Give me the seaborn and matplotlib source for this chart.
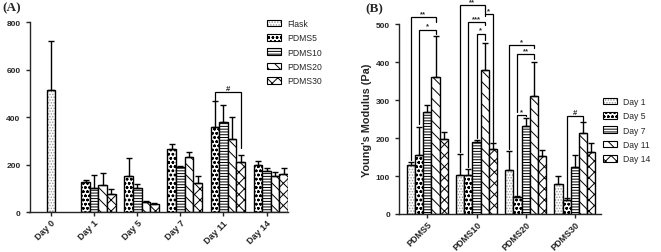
import numpy as np
import pandas as pd
import seaborn as sns
import matplotlib.pyplot as plt
from matplotlib.patches import Patch

# ---- dados ----
dias = ['Day 0', 'Day 1', 'Day 5', 'Day 7', 'Day 11', 'Day 14']
dias_pdms = ['Day 1', 'Day 5', 'Day 7', 'Day 11', 'Day 14']
grupos = ['PDMS5', 'PDMS10', 'PDMS20', 'PDMS30']

flask_media = [515]
flask_erro = [205]

media_pdms5 = [128, 154, 268, 361, 198]
media_pdms10 = [103, 102, 190, 380, 172]
media_pdms20 = [116, 44, 231, 310, 152]
media_pdms30 = [78, 37, 123, 212, 162]

erro_pdms5 = [8, 76, 20, 108, 17]
erro_pdms10 = [54, 16, 5, 70, 14]
erro_pdms20 = [50, 3, 22, 91, 16]
erro_pdms30 = [21, 4, 31, 30, 24]

# hachuras de cada serie
hachura_flask = '......'
hachuras = ['oooo', '------', '\\\\\\', 'xxx']

# marcas de significancia: (grupo, barra i, barra j, topo, perna esq, perna dir, texto)
sig_a = [('Day 11', 0, 3, 507, 472, 272, '#')]
sig_b = [
    ('PDMS5', 0, 3, 518, 142, 506, '**'),
    ('PDMS5', 1, 3, 485, 237, 475, '*'),
    ('PDMS10', 0, 3, 550, 162, 526, '**'),
    ('PDMS10', 3, 4, 526, 520, 190, '*'),
    ('PDMS10', 1, 3, 504, 123, 497, '***'),
    ('PDMS10', 2, 3, 475, 200, 458, '*'),
    ('PDMS20', 0, 3, 445, 171, 436, '*'),
    ('PDMS20', 1, 3, 421, 268, 407, '**'),
    ('PDMS20', 1, 2, 261, 50, 257, '*'),
    ('PDMS30', 1, 3, 257, 45, 246, '#'),
]

medias = [media_pdms5, media_pdms10, media_pdms20, media_pdms30]
erros = [erro_pdms5, erro_pdms10, erro_pdms20, erro_pdms30]

linhas = []
for g, m, e in zip(grupos, medias, erros):
    for d, mv, ev in zip(dias_pdms, m, e):
        linhas.append({'dia': d, 'grupo': g, 'media': mv, 'erro': ev})
df = pd.DataFrame(linhas)
df_flask = pd.DataFrame({'dia': ['Day 0'], 'grupo': ['Flask'],
                         'media': flask_media, 'erro': flask_erro})

sns.set_style('ticks')
plt.rcParams['font.family'] = ['Liberation Sans', 'DejaVu Sans']
plt.rcParams['hatch.linewidth'] = 0.7
plt.rcParams['axes.linewidth'] = 1.0

fig = plt.figure(figsize=(6.61, 2.53), dpi=100)
axA = fig.add_axes([29.5 / 661, 39.7 / 253, 258.6 / 661, 190 / 253])
axB = fig.add_axes([399 / 661, 38 / 253, 202 / 661, 190 / 253])

cinza = (0.6, 0.6, 0.6, 1)


def aplica_hachura(p, h):
    p.set_hatch(h)
    if h == hachura_flask:
        p._hatch_color = cinza


def acabamento(ax, tops, rot_labels):
    # hachuras + barras de erro (so para cima)
    for p in ax.patches:
        x = p.get_x() + p.get_width() / 2
        chave = (int(round(x)), round(p.get_height(), 3))
        if chave not in tops:
            continue
        h, e = tops[chave]
        aplica_hachura(p, h)
        ax.errorbar(x, p.get_height(), yerr=[[0], [e]], fmt='none', ecolor='black',
                    elinewidth=1, capsize=2, capthick=1)
    sns.despine(ax=ax)
    ax.set_xlabel('')
    ax.tick_params(axis='both', length=3, width=1, labelsize=6)
    ax.tick_params(axis='x', pad=1)
    for t in ax.get_yticklabels():
        t.set_fontweight('bold')
    ax.set_xticks(ax.get_xticks())
    ax.set_xticklabels(rot_labels, rotation=45, ha='right', rotation_mode='anchor',
                       fontsize=6.5, fontweight='bold')


def centro_barra(ax, grupo_idx, valor):
    for p in ax.patches:
        x = p.get_x() + p.get_width() / 2
        if int(round(x)) == grupo_idx and round(p.get_height(), 3) == valor:
            return x
    return None


def colchetes(ax, lista, categorias, series, ordem):
    for grp, i, j, topo, yi, yj, txt in lista:
        gi = categorias.index(grp)
        xi = centro_barra(ax, gi, series[ordem[i]][gi])
        xj = centro_barra(ax, gi, series[ordem[j]][gi])
        ax.plot([xi, xi, xj, xj], [yi, topo, topo, yj], color='black', lw=0.9,
                clip_on=False, solid_joinstyle='miter')
        ax.text((xi + xj) / 2, topo, txt, ha='center', va='bottom', fontsize=5.5,
                fontweight='bold')


# ---------------- (A) ----------------
sns.barplot(data=df_flask, x='dia', y='media', order=dias, width=0.2, color='white',
            edgecolor='black', linewidth=1, errorbar=None, ax=axA)
sns.barplot(data=df, x='dia', y='media', hue='grupo', order=dias,
            hue_order=['Flask'] + grupos, width=1.0, palette=['white'] * 5,
            edgecolor='black', linewidth=1, errorbar=None, legend=False, ax=axA)

tops_a = {(0, round(flask_media[0], 3)): (hachura_flask, flask_erro[0])}
for k, g in enumerate(grupos):
    for n, d in enumerate(dias_pdms):
        tops_a[(dias.index(d), round(medias[k][n], 3))] = (hachuras[k], erros[k][n])
acabamento(axA, tops_a, dias)
axA.set_ylabel('')
axA.set_ylim(0, 800)
axA.set_yticks([0, 200, 400, 600, 800])
axA.set_xlim(-0.5, 5.5)

# colchete do painel A (Day 11: PDMS5 x PDMS30)
series_a = {g: [None] + medias[k] for k, g in enumerate(grupos)}
colchetes(axA, sig_a, dias, series_a, grupos)

leg_a = [Patch(facecolor='white', edgecolor='black', hatch=hachura_flask, lw=0.8, label='Flask')]
leg_a[0]._hatch_color = cinza
leg_a += [Patch(facecolor='white', edgecolor='black', hatch=h, lw=0.8, label=g)
          for g, h in zip(grupos, hachuras)]
fig.legend(handles=leg_a, loc='upper left', bbox_to_anchor=(267 / 661, 1 - 20 / 253),
           frameon=False, fontsize=6.2, handlelength=1.6, handleheight=0.8,
           labelspacing=0.62, handletextpad=0.7, borderpad=0, borderaxespad=0)

# ---------------- (B) ----------------
sns.barplot(data=df, x='grupo', y='media', hue='dia', order=grupos, hue_order=dias_pdms,
            width=0.835, palette=['white'] * 5, edgecolor='black', linewidth=1,
            errorbar=None, legend=False, ax=axB)
hach_dias = [hachura_flask] + hachuras
tops_b = {}
for k, g in enumerate(grupos):
    for n, d in enumerate(dias_pdms):
        tops_b[(k, round(medias[k][n], 3))] = (hach_dias[n], erros[k][n])
acabamento(axB, tops_b, grupos)
axB.set_ylim(0, 500)
axB.set_yticks([0, 100, 200, 300, 400, 500])
axB.set_xlim(-0.575, 3.53)
axB.set_ylabel("Young's Modulus (Pa)", fontsize=7.8, fontweight='bold', labelpad=3)

series_b = {d: [medias[k][n] for k in range(4)] for n, d in enumerate(dias_pdms)}
colchetes(axB, sig_b, grupos, series_b, dias_pdms)

leg_b = [Patch(facecolor='white', edgecolor='black', hatch=h, lw=0.8, label=d)
         for d, h in zip(dias_pdms, hach_dias)]
leg_b[0]._hatch_color = cinza
fig.legend(handles=leg_b, loc='upper left', bbox_to_anchor=(603 / 661, 1 - 98 / 253),
           frameon=False, fontsize=6.2, handlelength=1.6, handleheight=0.8,
           labelspacing=0.62, handletextpad=0.7, borderpad=0, borderaxespad=0)

fig.text(2 / 661, 1 - 2 / 253, '(A)', family=['Liberation Serif'], fontweight='bold',
         fontsize=9.5, va='top')
fig.text(365 / 661, 1 - 3 / 253, '(B)', family=['Liberation Serif'], fontweight='bold',
         fontsize=9.5, va='top')

fig.savefig('out.png', dpi=100)
